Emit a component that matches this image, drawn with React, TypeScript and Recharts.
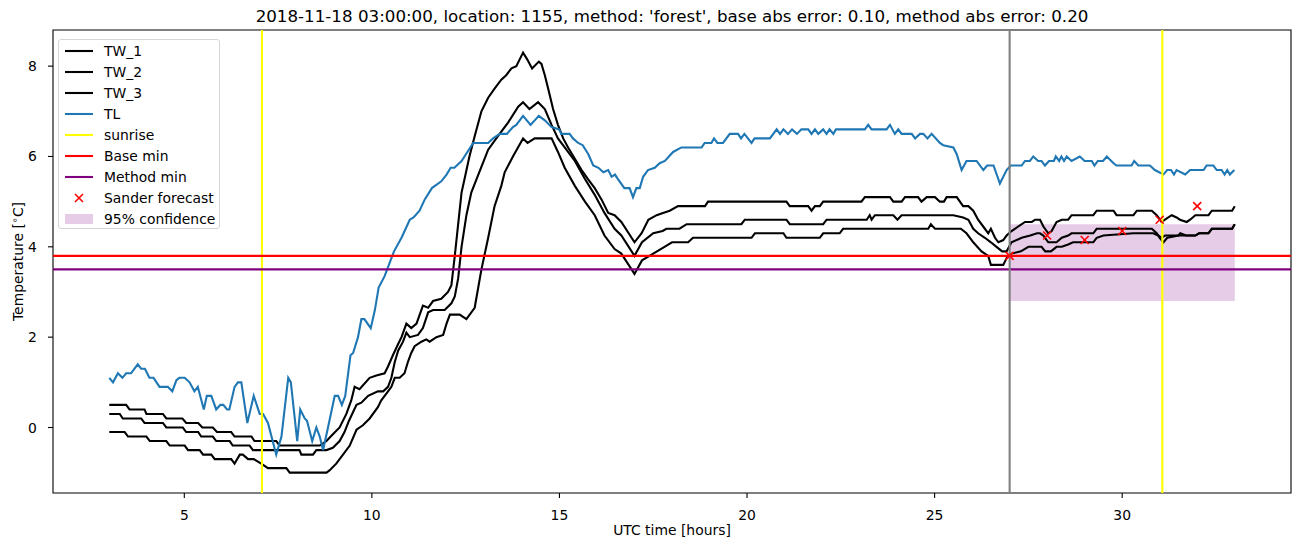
import React from 'react';
import { ComposedChart, Line, XAxis, YAxis, ReferenceLine, ReferenceArea } from 'recharts';

type Pt = [number, number];

// hours since 2018-11-18 00:00 UTC, temperature in °C
const TW_1: Pt[] = [
  [3.0, 0.5], [3.45, 0.5], [3.54, 0.4], [3.94, 0.4], [3.99, 0.3], [4.43, 0.3], [4.52, 0.2], [4.95, 0.2],
  [5.05, 0.1], [5.37, 0.1], [5.48, 0.0], [5.76, 0.0], [5.87, -0.1], [6.25, -0.1], [6.34, -0.2], [6.79, -0.2],
  [6.87, -0.3], [7.45, -0.3], [7.54, -0.4], [8.61, -0.4], [8.79, -0.3], [8.96, -0.15], [9.14, 0.0], [9.32, 0.3],
  [9.45, 0.6], [9.54, 0.9], [9.67, 0.85], [9.94, 1.1], [10.12, 1.15], [10.34, 1.2], [10.43, 1.35], [10.56, 1.6],
  [10.7, 1.85], [10.79, 2.0], [10.92, 2.3], [11.05, 2.2], [11.19, 2.3], [11.36, 2.7], [11.5, 2.65], [11.63, 2.8],
  [11.85, 2.85], [12.03, 3.0], [12.12, 3.15], [12.21, 3.8], [12.3, 4.5], [12.39, 5.2], [12.47, 5.5], [12.6, 6.0],
  [12.74, 6.45], [12.92, 7.0], [13.1, 7.3], [13.27, 7.5], [13.45, 7.7], [13.58, 7.8], [13.72, 7.95], [13.85, 8.0],
  [13.94, 8.15], [14.03, 8.3], [14.14, 8.15], [14.27, 7.95], [14.45, 8.1], [14.52, 8.05], [14.61, 7.8], [14.7, 7.5],
  [14.83, 7.05], [14.96, 6.7], [15.1, 6.4], [15.23, 6.2], [15.41, 5.95], [15.59, 5.7], [15.76, 5.5], [15.94, 5.3],
  [16.12, 5.05], [16.3, 4.75], [16.47, 4.7], [16.65, 4.55], [17.0, 4.1], [17.19, 4.3], [17.37, 4.6], [17.59, 4.7],
  [17.76, 4.75], [17.94, 4.8], [18.16, 4.9], [18.88, 4.9], [18.96, 5.0], [21.05, 5.0], [21.14, 4.9], [21.63, 4.9],
  [21.72, 4.8], [21.81, 4.9], [21.94, 4.9], [22.03, 5.0], [23.05, 5.0], [23.14, 5.1], [23.81, 5.1], [23.9, 5.0],
  [24.12, 5.0], [24.21, 5.1], [24.56, 5.1], [24.65, 5.0], [24.79, 5.1], [25.01, 5.1], [25.14, 5.0], [25.25, 5.0],
  [25.32, 5.1], [25.59, 5.1], [25.76, 4.9], [25.9, 4.9], [26.03, 4.8], [26.16, 4.6], [26.34, 4.4], [26.43, 4.3],
  [26.5, 4.4], [26.61, 4.2], [26.7, 4.1], [26.83, 4.15], [26.92, 4.25], [27.05, 4.35], [27.41, 4.55], [27.59, 4.55],
  [27.68, 4.6], [27.81, 4.6], [27.9, 4.45], [28.03, 4.3], [28.12, 4.35], [28.25, 4.55], [28.39, 4.6], [28.56, 4.6],
  [28.65, 4.7], [29.23, 4.7], [29.32, 4.8], [29.77, 4.8], [29.85, 4.7], [30.3, 4.7], [30.39, 4.8], [30.79, 4.8],
  [30.92, 4.7], [31.05, 4.55], [31.14, 4.6], [31.32, 4.7], [31.45, 4.65], [31.54, 4.6], [31.72, 4.55], [31.81, 4.6],
  [31.95, 4.7], [32.3, 4.7], [32.39, 4.8], [32.93, 4.8], [33.0, 4.9],
];

const TW_2: Pt[] = [
  [3.0, 0.3], [3.28, 0.3], [3.36, 0.2], [3.85, 0.2], [3.94, 0.1], [4.43, 0.1], [4.52, 0.0], [4.96, 0.0],
  [5.05, -0.1], [5.37, -0.1], [5.45, -0.2], [5.76, -0.2], [5.85, -0.3], [6.21, -0.3], [6.29, -0.4], [6.74, -0.4],
  [6.83, -0.5], [8.07, -0.5], [8.12, -0.6], [8.43, -0.6], [8.52, -0.5], [8.79, -0.5], [8.96, -0.45], [9.14, -0.3],
  [9.27, -0.1], [9.39, 0.15], [9.59, 0.5], [9.72, 0.55], [9.9, 0.7], [10.16, 0.8], [10.3, 0.8], [10.43, 0.9],
  [10.52, 1.1], [10.61, 1.45], [10.7, 1.7], [10.83, 1.9], [10.92, 2.1], [11.01, 2.0], [11.23, 2.05], [11.36, 2.2],
  [11.5, 2.55], [11.63, 2.6], [11.94, 2.6], [12.12, 2.75], [12.21, 2.9], [12.3, 3.3], [12.39, 4.0], [12.52, 4.7],
  [12.65, 5.2], [12.79, 5.5], [13.1, 6.15], [13.36, 6.45], [13.63, 6.75], [13.9, 7.1], [14.03, 7.2], [14.2, 7.05],
  [14.43, 7.2], [14.61, 7.05], [14.79, 6.7], [14.96, 6.4], [15.14, 6.2], [15.41, 5.9], [15.68, 5.5], [15.94, 5.15],
  [16.2, 4.75], [16.47, 4.4], [16.65, 4.25], [17.0, 3.8], [17.2, 4.1], [17.5, 4.3], [17.75, 4.35], [17.85, 4.4],
  [18.2, 4.4], [18.39, 4.5], [19.85, 4.5], [19.94, 4.6], [21.05, 4.6], [21.14, 4.5], [22.03, 4.5], [22.12, 4.6],
  [23.19, 4.6], [23.27, 4.7], [23.32, 4.6], [23.41, 4.7], [23.9, 4.7], [24.01, 4.6], [24.12, 4.7], [25.5, 4.7],
  [25.76, 4.65], [25.9, 4.6], [26.03, 4.4], [26.16, 4.3], [26.34, 4.2], [26.5, 4.1], [26.65, 4.0], [26.8, 3.9],
  [26.92, 3.9], [27.05, 4.1], [27.32, 4.2], [27.55, 4.25], [27.73, 4.3], [27.81, 4.3], [27.9, 4.25], [28.03, 4.1],
  [28.25, 4.1], [28.39, 4.2], [28.56, 4.25], [28.65, 4.3], [29.23, 4.3], [29.32, 4.4], [30.79, 4.4], [30.92, 4.3],
  [31.0, 4.2], [31.1, 4.1], [31.2, 4.2], [31.5, 4.25], [31.55, 4.3], [31.7, 4.25], [31.95, 4.25], [32.05, 4.3],
  [32.3, 4.3], [32.39, 4.4], [32.93, 4.4], [33.0, 4.5],
];

const TW_3: Pt[] = [
  [3.0, -0.1], [3.41, -0.1], [3.5, -0.2], [3.99, -0.2], [4.08, -0.3], [4.52, -0.3], [4.61, -0.4], [5.01, -0.4],
  [5.1, -0.5], [5.41, -0.5], [5.5, -0.6], [5.72, -0.6], [5.81, -0.7], [6.25, -0.7], [6.34, -0.8], [6.48, -0.6],
  [6.56, -0.6], [6.7, -0.7], [6.85, -0.7], [7.05, -0.8], [7.23, -0.9], [7.72, -0.9], [7.81, -1.0], [8.79, -1.0],
  [8.87, -0.95], [9.05, -0.8], [9.23, -0.6], [9.41, -0.4], [9.59, -0.05], [9.76, 0.05], [9.94, 0.2], [10.16, 0.45],
  [10.25, 0.6], [10.34, 0.7], [10.43, 0.8], [10.52, 0.9], [10.61, 1.1], [10.74, 1.1], [10.87, 1.2], [10.96, 1.45],
  [11.05, 1.65], [11.14, 1.8], [11.32, 1.9], [11.45, 1.95], [11.54, 1.9], [11.72, 2.0], [11.9, 2.05], [11.99, 2.3],
  [12.08, 2.5], [12.34, 2.5], [12.52, 2.4], [12.74, 2.65], [12.92, 3.5], [13.1, 4.2], [13.27, 4.9], [13.45, 5.35],
  [13.54, 5.65], [13.76, 6.0], [14.03, 6.4], [14.15, 6.3], [14.34, 6.4], [14.79, 6.4], [14.96, 6.1], [15.14, 5.75],
  [15.41, 5.35], [15.68, 5.0], [15.94, 4.7], [16.2, 4.25], [16.47, 3.95], [16.65, 3.85], [17.0, 3.4], [17.2, 3.7],
  [17.4, 3.8], [17.6, 3.9], [17.8, 4.0], [18.0, 4.1], [18.43, 4.1], [18.56, 4.2], [20.12, 4.2], [20.21, 4.3],
  [20.97, 4.3], [21.05, 4.2], [21.94, 4.2], [22.03, 4.3], [22.47, 4.3], [22.56, 4.4], [24.83, 4.4], [24.9, 4.5],
  [25.01, 4.4], [25.7, 4.4], [25.85, 4.3], [26.03, 4.1], [26.25, 3.9], [26.43, 3.8], [26.5, 3.6], [26.83, 3.6],
  [26.92, 3.75], [27.05, 3.85], [27.3, 3.9], [27.5, 4.0], [27.85, 4.0], [27.95, 3.9], [28.1, 3.9], [28.25, 4.0],
  [28.39, 4.0], [28.56, 4.05], [28.69, 4.1], [29.23, 4.1], [29.32, 4.2], [29.5, 4.25], [30.3, 4.3], [30.83, 4.3],
  [30.96, 4.25], [31.05, 4.2], [31.14, 4.25], [31.95, 4.25], [32.05, 4.3], [32.3, 4.3], [32.39, 4.4], [32.93, 4.4],
  [33.0, 4.5],
];

const TL: Pt[] = [
  [3.0, 1.1], [3.1, 1.0], [3.23, 1.2], [3.35, 1.1], [3.45, 1.2], [3.58, 1.2], [3.76, 1.4], [3.85, 1.3],
  [3.95, 1.3], [4.07, 1.1], [4.18, 1.1], [4.34, 0.9], [4.56, 0.9], [4.68, 0.8], [4.79, 1.05], [4.87, 1.1],
  [5.01, 1.1], [5.14, 1.0], [5.27, 0.8], [5.36, 0.9], [5.52, 0.4], [5.6, 0.7], [5.72, 0.7], [5.85, 0.4],
  [5.96, 0.5], [6.04, 0.5], [6.14, 0.4], [6.2, 0.4], [6.34, 0.9], [6.43, 1.0], [6.52, 1.0], [6.68, 0.1],
  [6.85, 0.7], [7.01, 0.3], [7.1, 0.3], [7.23, 0.1], [7.45, -0.6], [7.59, -0.2], [7.77, 1.1], [7.84, 1.0],
  [8.01, -0.3], [8.09, 0.4], [8.21, 0.2], [8.27, 0.15], [8.41, -0.3], [8.52, 0.0], [8.61, -0.2], [8.7, -0.5],
  [8.83, 0.0], [9.01, 0.7], [9.1, 0.7], [9.2, 0.5], [9.29, 0.7], [9.43, 1.6], [9.5, 1.65], [9.63, 2.0],
  [9.72, 2.4], [9.8, 2.4], [9.97, 2.2], [10.08, 2.6], [10.18, 3.1], [10.34, 3.35], [10.43, 3.55], [10.59, 3.9],
  [10.79, 4.2], [11.01, 4.6], [11.11, 4.65], [11.27, 4.8], [11.41, 5.05], [11.6, 5.3], [11.85, 5.45], [11.99, 5.6],
  [12.1, 5.75], [12.2, 5.75], [12.39, 5.9], [12.7, 6.3], [13.1, 6.3], [13.23, 6.4], [13.41, 6.5], [13.6, 6.5],
  [13.76, 6.65], [13.85, 6.7], [14.03, 6.9], [14.23, 6.7], [14.45, 6.9], [14.61, 6.8], [14.79, 6.65], [14.99, 6.6],
  [15.05, 6.5], [15.27, 6.5], [15.36, 6.4], [15.5, 6.3], [15.62, 6.25], [15.77, 6.05], [15.9, 5.8], [16.04, 5.75],
  [16.17, 5.65], [16.3, 5.7], [16.39, 5.55], [16.48, 5.6], [16.56, 5.5], [16.73, 5.3], [16.87, 5.3], [16.96, 5.1],
  [17.05, 5.3], [17.14, 5.3], [17.23, 5.55], [17.36, 5.7], [17.54, 5.75], [17.67, 5.85], [17.81, 5.9], [18.03, 6.1],
  [18.25, 6.2], [18.79, 6.2], [18.87, 6.3], [19.05, 6.3], [19.12, 6.4], [19.21, 6.3], [19.36, 6.3], [19.54, 6.5],
  [19.76, 6.5], [19.84, 6.4], [19.93, 6.5], [20.12, 6.3], [20.2, 6.4], [20.61, 6.4], [20.79, 6.6], [20.88, 6.5],
  [20.97, 6.6], [21.09, 6.5], [21.2, 6.6], [21.33, 6.5], [21.45, 6.6], [21.63, 6.6], [21.72, 6.5], [21.81, 6.6],
  [21.9, 6.5], [22.03, 6.6], [22.12, 6.5], [22.2, 6.6], [22.3, 6.5], [22.37, 6.6], [23.14, 6.6], [23.23, 6.7],
  [23.32, 6.6], [23.72, 6.6], [23.81, 6.7], [23.94, 6.5], [24.03, 6.6], [24.12, 6.5], [24.39, 6.5], [24.48, 6.4],
  [24.61, 6.5], [24.7, 6.5], [24.81, 6.4], [24.92, 6.5], [25.14, 6.3], [25.23, 6.25], [25.5, 6.2], [25.59, 6.05],
  [25.72, 5.7], [25.85, 5.9], [26.12, 5.9], [26.3, 5.7], [26.4, 5.8], [26.57, 5.8], [26.74, 5.4], [26.92, 5.7],
  [27.03, 5.8], [27.32, 5.8], [27.41, 5.9], [27.54, 5.9], [27.63, 6.0], [27.76, 5.9], [27.85, 5.9], [27.94, 5.8],
  [28.05, 5.9], [28.18, 5.9], [28.23, 6.0], [28.32, 5.9], [28.38, 6.0], [28.45, 5.9], [28.52, 6.0], [28.65, 5.9],
  [28.87, 6.0], [29.0, 5.9], [29.19, 5.9], [29.26, 5.8], [29.35, 5.9], [29.49, 5.9], [29.59, 6.0], [29.77, 5.85],
  [29.85, 5.8], [30.25, 5.8], [30.32, 5.9], [30.43, 5.8], [30.74, 5.8], [30.87, 5.7], [31.1, 5.6], [31.2, 5.7],
  [31.3, 5.7], [31.38, 5.6], [31.45, 5.7], [31.68, 5.6], [31.81, 5.7], [32.17, 5.7], [32.25, 5.8], [32.43, 5.8],
  [32.52, 5.7], [32.65, 5.7], [32.73, 5.6], [32.8, 5.7], [32.87, 5.6], [32.99, 5.7],
];

const SANDER: Pt[] = [[27, 3.8], [28, 4.25], [29, 4.15], [30, 4.35], [31, 4.6], [32, 4.9]];

const SUNRISE = [7.07, 31.07];
const FORECAST_START = 27;
const BASE_MIN = 3.8;
const METHOD_MIN = 3.5;
const CONF_X = [27, 33];
const CONF_Y = [2.8, 4.5];

const X_TICKS = [5, 10, 15, 20, 25, 30];
const Y_TICKS = [0, 2, 4, 6, 8];
const X_DOMAIN = [1.5, 34.5];
const Y_DOMAIN = [-1.45, 8.8];

const TITLE = "2018-11-18 03:00:00, location: 1155, method: 'forest', base abs error: 0.10, method abs error: 0.20";

const FONT = '"DejaVu Sans", sans-serif';
const BLUE = '#1f77b4';
const CONF_FILL = '#e6cce6';

const toPts = (a: Pt[]) => a.map(([t, v]) => ({ t, v }));

const XTick = (props: any) => {
  const { x, y, payload } = props;
  return (
    <text x={x} y={y + 5 + 4.9 + 10.3} textAnchor="middle" fontFamily={FONT} fontSize={13.9} fill="#000">
      {payload.value}
    </text>
  );
};

const YTick = (props: any) => {
  const { x, y, payload } = props;
  return (
    <text x={x - 5 - 4.2} y={y + 5} textAnchor="end" fontFamily={FONT} fontSize={13.9} fill="#000">
      {payload.value}
    </text>
  );
};

const Cross = (props: any) => {
  const { cx, cy, index } = props;
  if (cx == null || cy == null) return <g key={index} />;
  const s = 4;
  return (
    <g key={index}>
      <line x1={cx - s} y1={cy - s} x2={cx + s} y2={cy + s} stroke="#ff0000" strokeWidth={1.6} />
      <line x1={cx - s} y1={cy + s} x2={cx + s} y2={cy - s} stroke="#ff0000" strokeWidth={1.6} />
    </g>
  );
};

const LEGEND = [
  { label: 'TW_1', kind: 'line', color: '#000000' },
  { label: 'TW_2', kind: 'line', color: '#000000' },
  { label: 'TW_3', kind: 'line', color: '#000000' },
  { label: 'TL', kind: 'line', color: BLUE },
  { label: 'sunrise', kind: 'line', color: '#ffff00' },
  { label: 'Base min', kind: 'line', color: '#ff0000' },
  { label: 'Method min', kind: 'line', color: '#800080' },
  { label: 'Sander forecast', kind: 'cross', color: '#ff0000' },
  { label: '95% confidence', kind: 'patch', color: CONF_FILL },
];

function LegendBox() {
  return (
    <div
      style={{
        position: 'absolute', left: 58, top: 39, width: 162, height: 190,
        border: '1px solid #d6d6d6', borderRadius: 3, background: 'rgba(255,255,255,0.8)',
        boxSizing: 'border-box', fontFamily: FONT, fontSize: 13.9, color: '#000',
      }}
    >
      {LEGEND.map((item, i) => {
        const cy = 11 + i * 21.05;
        return (
          <div key={item.label} style={{ position: 'absolute', left: 0, top: cy - 10, height: 20, width: 160 }}>
            <svg width={40} height={20} style={{ position: 'absolute', left: 5, top: 0 }}>
              {item.kind === 'line' && <line x1={1} x2={29} y1={10} y2={10} stroke={item.color} strokeWidth={2.1} />}
              {item.kind === 'cross' && (
                <g>
                  <line x1={11} y1={6} x2={19} y2={14} stroke={item.color} strokeWidth={1.6} />
                  <line x1={11} y1={14} x2={19} y2={6} stroke={item.color} strokeWidth={1.6} />
                </g>
              )}
              {item.kind === 'patch' && <rect x={1} y={5} width={28} height={10} fill={item.color} />}
            </svg>
            <span style={{ position: 'absolute', left: 45, top: 1, lineHeight: '18px', whiteSpace: 'nowrap' }}>
              {item.label}
            </span>
          </div>
        );
      })}
    </div>
  );
}

export default function App() {
  const W = 1302;
  const H = 547;
  const plotLeft = 53;
  const plotRight = 1291;
  const plotTop = 30;
  const plotBottom = 493;
  const cx = (plotLeft + plotRight) / 2;
  const cy = (plotTop + plotBottom) / 2;

  return (
    <div style={{ position: 'absolute', left: 0, top: 0, width: W, height: H, background: '#fff' }}>
      <ComposedChart
        width={W}
        height={H}
        margin={{ top: plotTop, right: W - plotRight, bottom: H - plotBottom - 40, left: plotLeft - 45 }}
      >
        <XAxis
          type="number"
          dataKey="t"
          domain={X_DOMAIN}
          ticks={X_TICKS}
          allowDataOverflow
          height={40}
          axisLine={false}
          tickLine={{ stroke: '#000', strokeWidth: 1.1 }}
          tickSize={5}
          tick={<XTick />}
          interval={0}
        />
        <YAxis
          type="number"
          domain={Y_DOMAIN}
          ticks={Y_TICKS}
          allowDataOverflow
          width={45}
          axisLine={false}
          tickLine={{ stroke: '#000', strokeWidth: 1.1 }}
          tickSize={5}
          tick={<YTick />}
          interval={0}
        />
        <ReferenceArea x1={CONF_X[0]} x2={CONF_X[1]} y1={CONF_Y[0]} y2={CONF_Y[1]} fill="#800080" fillOpacity={0.2} stroke="none" />
        <Line data={toPts(TW_1)} dataKey="v" stroke="#000" strokeWidth={2.1} dot={false} activeDot={false} isAnimationActive={false} type="linear" />
        <Line data={toPts(TW_2)} dataKey="v" stroke="#000" strokeWidth={2.1} dot={false} activeDot={false} isAnimationActive={false} type="linear" />
        <Line data={toPts(TW_3)} dataKey="v" stroke="#000" strokeWidth={2.1} dot={false} activeDot={false} isAnimationActive={false} type="linear" />
        <Line data={toPts(TL)} dataKey="v" stroke={BLUE} strokeWidth={2.1} dot={false} activeDot={false} isAnimationActive={false} type="linear" />
        {SUNRISE.map((s) => (
          <ReferenceLine key={s} x={s} stroke="#ffff00" strokeWidth={2.1} />
        ))}
        <ReferenceLine y={BASE_MIN} stroke="#ff0000" strokeWidth={2.1} />
        <ReferenceLine y={METHOD_MIN} stroke="#800080" strokeWidth={2.1} />
        <ReferenceLine x={FORECAST_START} stroke="#808080" strokeWidth={2.1} />
        <Line data={toPts(SANDER)} dataKey="v" stroke="none" dot={<Cross />} activeDot={false} isAnimationActive={false} />
        <ReferenceArea x1={X_DOMAIN[0]} x2={X_DOMAIN[1]} y1={Y_DOMAIN[0]} y2={Y_DOMAIN[1]} fill="none" stroke="#000" strokeWidth={1.1} />
        <text x={cx} y={22} textAnchor="middle" fontFamily={FONT} fontSize={16.7} fill="#000">{TITLE}</text>
        <text x={cx} y={535} textAnchor="middle" fontFamily={FONT} fontSize={13.9} fill="#000">UTC time [hours]</text>
        <text transform={`translate(23, ${cy}) rotate(-90)`} textAnchor="middle" fontFamily={FONT} fontSize={13.9} fill="#000">
          Temperature [<tspan dy={-5} fontSize={9.7}>∘</tspan><tspan dy={5}>C]</tspan>
        </text>
      </ComposedChart>
      <LegendBox />
    </div>
  );
}
